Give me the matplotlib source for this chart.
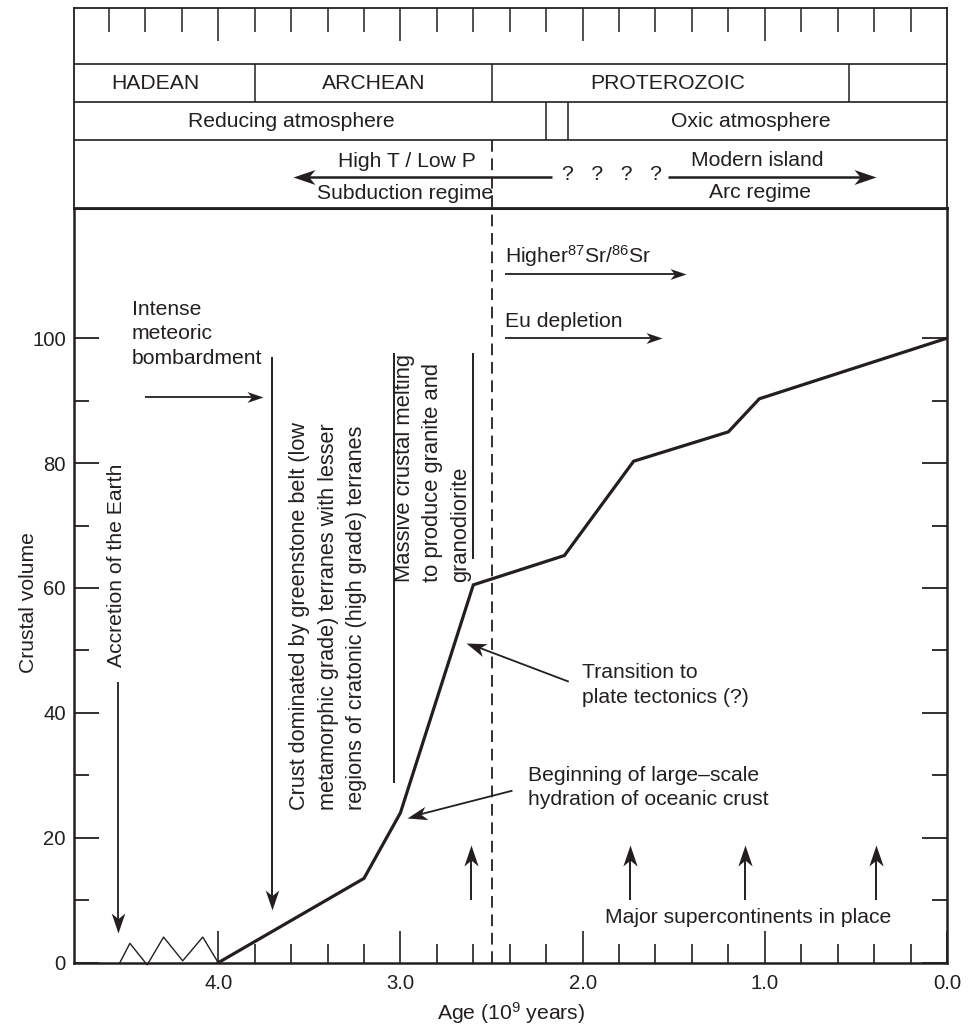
import matplotlib
matplotlib.use("Agg")
import matplotlib.pyplot as plt
import numpy as np
from matplotlib.markers import MarkerStyle
from matplotlib.path import Path
from matplotlib.transforms import Affine2D
from matplotlib.ticker import FixedLocator, NullLocator

plt.rcParams['font.family'] = ['Liberation Sans', 'DejaVu Sans']
plt.rcParams['mathtext.fontset'] = 'custom'
plt.rcParams['mathtext.rm'] = 'Liberation Sans'
plt.rcParams['mathtext.it'] = 'Liberation Sans:italic'
plt.rcParams['mathtext.bf'] = 'Liberation Sans:bold'

# ---------------- data ----------------
curve_age = [4.0, 3.2, 3.0, 2.6, 2.1, 1.72, 1.2, 1.03, 0.0]
curve_vol = [0.0, 13.5, 24.0, 60.5, 65.2, 80.3, 85.0, 90.3, 100.0]
accretion_age = [4.54, 4.485, 4.39, 4.30, 4.195, 4.085, 4.0]
accretion_vol = [0.0, 3.1, -0.35, 4.1, 0.3, 4.1, 0.0]
supercontinent_ages = [2.61, 1.74, 1.11, 0.39]
era_names = ['HADEAN', 'ARCHEAN', 'PROTEROZOIC']
era_label_ages = [4.347, 3.146, 1.535]
era_bounds = [3.8, 2.5, 0.54]
atmos_names = ['Reducing atmosphere', 'Oxic atmosphere']
atmos_label_ages = [3.597, 1.079]
oxygenation_bounds = [2.2, 2.08]
boundary_age = 2.5
x_major = [4.0, 3.0, 2.0, 1.0, 0.0]
x_labels = ['4.0', '3.0', '2.0', '1.0', '0.0']
x_minor = [3.8, 3.6, 3.4, 3.2, 2.8, 2.6, 2.4, 2.2, 1.8, 1.6, 1.4, 1.2,
           0.8, 0.6, 0.4, 0.2]
top_major = [4.0, 3.0, 2.0, 1.0]
top_minor = [4.6, 4.4, 4.2] + x_minor
y_major = [0, 20, 40, 60, 80, 100]
y_labels = ['0', '20', '40', '60', '80', '100']
y_minor = [10, 30, 50, 70, 90]

FS_TICK = 14.6
FS = 15.2
INK = '#231f20'
W, H = 976, 1026

fig = plt.figure(figsize=(W / 100, H / 100), dpi=100)
L = 74.3 / W
R = 947.0 / W
B = (H - 962.7) / H
T = (H - 208.3) / H
TT = (H - 8.3) / H

ax = fig.add_axes([L, B, R - L, T - B])
ax.set_xlim(4.79, 0.0)
ax.set_ylim(0, 120.8)
axt = fig.add_axes([L, T, R - L, TT - T])
axt.set_xlim(4.79, 0.0)
axt.set_ylim(200, 0)

for s in ax.spines.values():
    s.set_linewidth(1.8)
    s.set_color(INK)
ax.spines['top'].set_linewidth(2.2)
for s in axt.spines.values():
    s.set_linewidth(1.3)
    s.set_color(INK)

# main ticks
ax.xaxis.set_major_locator(FixedLocator(x_major))
ax.xaxis.set_minor_locator(FixedLocator(x_minor))
ax.set_xticklabels(x_labels)
ax.yaxis.set_major_locator(FixedLocator(y_major))
ax.yaxis.set_minor_locator(FixedLocator(y_minor))
ax.set_yticklabels(y_labels)
ax.tick_params(axis='x', which='major', direction='in', length=23, width=1.2,
               pad=8, labelsize=FS_TICK, colors=INK, top=False, bottom=True)
ax.tick_params(axis='x', which='minor', direction='in', length=13.5, width=1.2,
               colors=INK, top=False, bottom=True)
ax.tick_params(axis='y', which='major', direction='in', length=18, width=1.3,
               pad=6, labelsize=FS_TICK, colors=INK, left=True, right=True)
ax.tick_params(axis='y', which='minor', direction='in', length=10.5, width=1.3,
               colors=INK, left=True, right=True)

ax.set_xlabel('Age (10$^{\\mathrm{9}}$ years)', fontsize=FS, color=INK)
ax.xaxis.set_label_coords(0.5, -0.049)
ax.set_ylabel('Crustal volume', fontsize=FS, color=INK)
ax.yaxis.set_label_coords(-0.042, 0.477)

# top table ticks
axt.xaxis.set_major_locator(FixedLocator(top_major))
axt.xaxis.set_minor_locator(FixedLocator(top_minor))
axt.yaxis.set_major_locator(NullLocator())
axt.tick_params(axis='x', which='major', direction='in', length=23.8, width=1.1,
                colors=INK, top=True, bottom=False, labeltop=False, labelbottom=False)
axt.tick_params(axis='x', which='minor', direction='in', length=17.3, width=1.1,
                colors=INK, top=True, bottom=False)

# rows
ROW_TICK, ROW_ERA, ROW_ATM = 56.0, 93.4, 131.7
for yy in (ROW_TICK, ROW_ERA, ROW_ATM):
    axt.axhline(yy, color=INK, lw=1.2)
axt.vlines(era_bounds, ROW_TICK, ROW_ERA, color=INK, lw=1.1)
axt.vlines(oxygenation_bounds, ROW_ERA, ROW_ATM, color=INK, lw=1.1)

for name, a in zip(era_names, era_label_ages):
    axt.text(a, 81.0, name, ha='center', va='baseline', fontsize=FS, color=INK)
for name, a in zip(atmos_names, atmos_label_ages):
    axt.text(a, 118.4, name, ha='center', va='baseline', fontsize=FS, color=INK)

DASH = (0, (6.5, 3.7))
axt.vlines([boundary_age], ROW_ATM, 200, color=INK, lw=1.3, linestyles=[DASH])
ax.vlines([boundary_age], 0, 120.8, color=INK, lw=1.3, linestyles=[DASH])

# arrow helper
HEAD = Path([(0, 0), (-1, 0.34), (-0.72, 0), (-1, -0.34), (0, 0)],
            [Path.MOVETO, Path.LINETO, Path.LINETO, Path.LINETO, Path.CLOSEPOLY])


def arrow(a, x0, y0, x1, y1, lw=1.2, hl=20.0):
    p0 = a.transData.transform((x0, y0))
    p1 = a.transData.transform((x1, y1))
    d = p1 - p0
    ln = np.hypot(d[0], d[1])
    ang = np.degrees(np.arctan2(d[1], d[0]))
    pe = p1 - d / ln * (0.72 * hl - 1.0)
    xe, ye = a.transData.inverted().transform(pe)
    a.plot([x0, xe], [y0, ye], color=INK, lw=lw, solid_capstyle='butt',
           clip_on=False)
    ms = MarkerStyle(HEAD, transform=Affine2D().rotate_deg(ang))
    a.plot([x1], [y1], linestyle='none', marker=ms, markersize=1.44 * hl,
           color=INK, markeredgewidth=0, clip_on=False, zorder=5)


# regime row
axt.text(2.963, 158.4, 'High T / Low P', ha='center', va='baseline', fontsize=FS, color=INK)
axt.text(2.975, 190.5, 'Subduction regime', ha='center', va='baseline', fontsize=FS, color=INK)
axt.text(1.837, 171.7, '?   ?   ?   ?', ha='center', va='baseline', fontsize=FS, color=INK)
axt.text(1.039, 157.7, 'Modern island', ha='center', va='baseline', fontsize=FS, color=INK)
axt.text(1.024, 190.0, 'Arc regime', ha='center', va='baseline', fontsize=FS, color=INK)
arrow(axt, 2.17, 168.4, 3.59, 168.4, lw=1.8, hl=22)
arrow(axt, 1.532, 168.4, 0.387, 168.4, lw=1.8, hl=22)

# main curve
ax.plot(curve_age, curve_vol, color=INK, lw=2.3, solid_joinstyle='miter', zorder=4)
ax.plot(accretion_age, accretion_vol, color=INK, lw=1.0, clip_on=False)

# annotations
ax.text(4.556, 47.4, 'Accretion of the Earth', rotation=90, ha='center',
        va='bottom', fontsize=FS, color=INK)
arrow(ax, 4.549, 45.0, 4.549, 4.7, lw=1.3, hl=20)

ax.text(4.475, 106.15, 'Intense\nmeteoric\nbombardment', ha='left', va='top',
        fontsize=FS, color=INK, linespacing=1.36)
arrow(ax, 4.402, 90.6, 3.753, 90.6, lw=1.3, hl=16)

ax.text(3.397, 24.5, 'Crust dominated by greenstone belt (low\n'
        'metamorphic grade) terranes with lesser\n'
        'regions of cratonic (high grade) terranes',
        rotation=90, ha='center', va='bottom', multialignment='left',
        fontsize=15.6, color=INK, linespacing=1.48)
arrow(ax, 3.707, 97.05, 3.707, 8.4, lw=1.4, hl=20)

ax.text(2.824, 61.0, 'Massive crustal melting\nto produce granite and\ngranodiorite',
        rotation=90, ha='center', va='bottom', multialignment='left',
        fontsize=15.8, color=INK, linespacing=1.46)
ax.vlines([3.036], 28.8, 97.6, color=INK, lw=1.4)
ax.vlines([2.601], 64.6, 97.6, color=INK, lw=1.4)

ax.text(2.427, 112.1, 'Higher$^{\\mathrm{87}}$Sr/$^{\\mathrm{86}}$Sr', ha='left',
        va='baseline', fontsize=FS, color=INK)
arrow(ax, 2.427, 110.25, 1.43, 110.25, lw=1.3, hl=16)
ax.text(2.427, 101.75, 'Eu depletion', ha='left', va='baseline', fontsize=FS, color=INK)
arrow(ax, 2.427, 100.0, 1.562, 100.0, lw=1.3, hl=16)

ax.text(2.003, 47.95, 'Transition to\nplate tectonics (?)', ha='left', va='top',
        fontsize=FS, color=INK, linespacing=1.36)
arrow(ax, 2.076, 45.0, 2.641, 51.25, lw=1.3, hl=20)

ax.text(2.299, 31.55, 'Beginning of large\u2013scale\nhydration of oceanic crust',
        ha='left', va='top', fontsize=FS, color=INK, linespacing=1.36)
arrow(ax, 2.385, 27.55, 2.966, 23.2, lw=1.3, hl=20)

for a in supercontinent_ages:
    arrow(ax, a, 10.06, a, 18.85, lw=1.4, hl=21)
ax.text(1.878, 8.76, 'Major supercontinents in place', ha='left', va='top',
        fontsize=FS, color=INK)

fig.savefig('out.png', dpi=100)
